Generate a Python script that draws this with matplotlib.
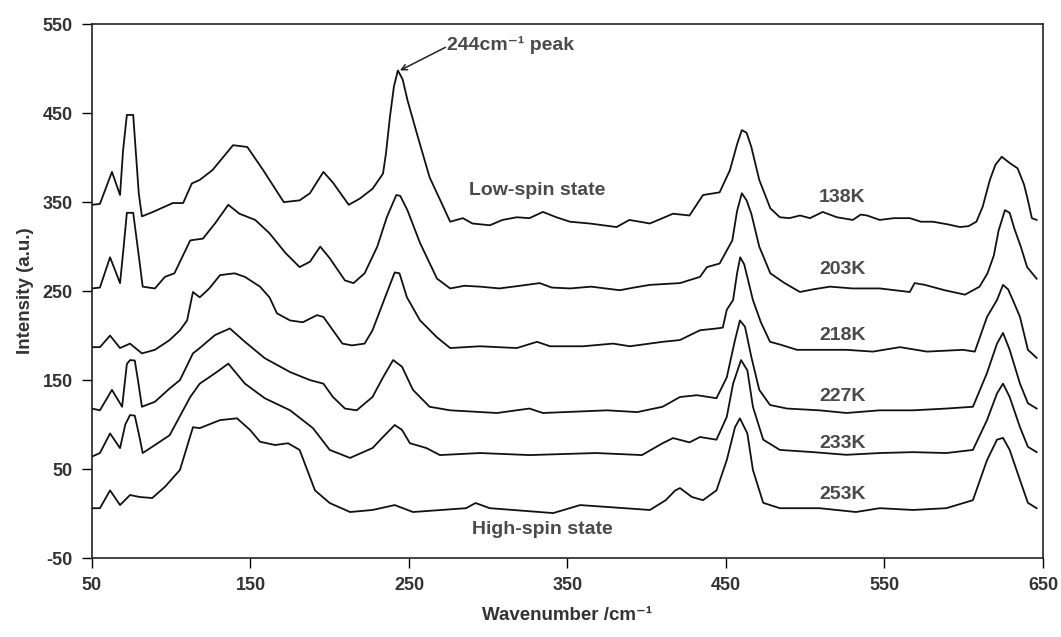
import matplotlib
matplotlib.use("Agg")
import matplotlib.pyplot as plt

plt.rcParams["font.family"] = ["Liberation Sans", "DejaVu Sans"]
plt.rcParams["font.weight"] = "bold"
plt.rcParams["axes.unicode_minus"] = False

# ---- spectra (wavenumber, intensity with offset) ----
wn_138 = [50, 55, 62.6, 67.7, 69.6, 72, 76, 79.5, 81.5, 88.5, 101, 107.5, 113, 118, 126, 139, 148,
          158, 171, 181, 187.5, 196, 202, 212, 219, 227, 233.6, 235.5, 238, 240.5, 243, 246, 249,
          255, 263, 276, 284, 290, 301, 309, 318, 326, 334.5, 343, 351.6, 364, 381, 389, 402,
          416.6, 427, 435.5, 446, 452.5, 457, 460, 463, 466, 471, 478, 484, 490, 496.7, 503, 511,
          520, 530, 535, 539, 547, 556, 566, 573, 580.6, 590, 597.6, 603, 608, 612, 616.5, 620,
          624, 629, 634, 638, 640, 643, 646]
int_138 = [347, 348, 384, 358, 408, 448, 448, 360, 334, 339, 349, 349, 371, 375, 386, 414, 412,
           386, 350, 352, 360, 384, 372, 347, 354, 365, 382, 405, 446, 480, 498, 488, 465,
           427, 378, 328, 332, 326, 324, 330, 333, 332, 339, 333, 328, 326, 322, 330, 326,
           337, 335, 358, 361, 386, 415, 431, 428, 412, 375, 343, 333, 332, 335, 332, 339,
           333, 330, 336, 335, 330, 332, 332, 328, 328, 325, 322, 323, 328, 345, 375, 392,
           401, 394, 388, 370, 356, 332, 330]

wn_203 = [50, 55, 61.4, 67.7, 70, 72, 76, 79.5, 82, 89.7, 96, 102, 112, 120, 127.6, 136, 143, 153,
          162, 172, 181, 187.5, 194, 200, 209.6, 215, 222, 230, 236, 242, 244.5, 249, 257, 267.7,
          276, 285, 295, 307, 320, 332.5, 340, 351.6, 365, 383, 392, 402, 421, 433.6, 438, 446,
          454, 457, 460, 463, 466, 471, 478, 487, 496.7, 505, 515.6, 530, 547, 566, 569, 575.5,
          588, 600.8, 610, 615, 619, 622, 626, 629, 632, 636, 640, 646]
int_203 = [253, 254, 288, 259, 300, 338, 338, 290, 255, 253, 266, 270, 307, 309, 326, 347, 337, 330,
           315, 293, 277, 283, 300, 287, 262, 259, 270, 300, 333, 358, 357, 341, 304, 264,
           253, 256, 255, 253, 256, 259, 254, 253, 255, 251, 254, 257, 259, 266, 277, 281,
           307, 340, 360, 352, 337, 300, 270, 259, 249, 252, 255, 253, 253, 249, 259, 257,
           251, 246, 255, 270, 290, 318, 341, 338, 320, 300, 277, 264]

wn_218 = [50, 55, 61.4, 67.7, 74, 81.5, 89.7, 99, 105.5, 110, 113.7, 118, 124, 130.8, 140, 146.5,
          156, 162, 166.7, 175, 183, 192, 196, 202, 208, 214, 222, 227, 236, 241, 244, 248.7,
          257, 267.7, 276, 294.8, 318, 330.8, 339, 359.8, 378.7, 389.4, 410, 421, 433.6, 444,
          448, 450.5, 454.5, 457, 459, 461.5, 464, 467, 472, 477.8, 484, 494.8, 509, 526, 542.7,
          559.8, 576.8, 599.5, 607, 614.7, 621, 624.8, 628, 631, 635.5, 640.5, 646]
int_218 = [187, 187, 200, 186, 191, 180, 184, 195, 206, 217, 249, 243, 253, 268, 270, 266,
           255, 243, 225, 217, 215, 223, 221, 206, 191, 189, 191, 206, 248, 271, 270, 243,
           217, 198, 186, 188, 186, 193, 188, 188, 191, 188, 193, 195, 206, 208,
           209, 229, 240, 270, 288, 280, 262, 240, 215, 193, 190, 184, 184, 184, 182,
           187, 182, 184, 182, 221, 240, 257, 252, 240, 221, 184, 175]

wn_227 = [50, 55, 62.6, 69, 72, 74, 77, 79, 81.5, 89.7, 99, 105.5, 113.7, 118, 127.6, 137, 146.5,
          159, 175, 187.5, 196, 202, 209.6, 217, 227, 233.6, 240, 245.6, 252.5, 263, 276, 305.5,
          326, 334.5, 375, 394, 410, 421, 431.7, 444, 450.5, 455.7, 458.8, 462, 466, 471, 477.8,
          488.5, 509, 526, 547, 568, 589, 605.8, 614.7, 621, 624.8, 629, 635.5, 640.5, 646]
int_227 = [118, 116, 139, 120, 168, 172.5, 172, 150, 120, 125.6, 140.6, 150, 180, 186, 200.6, 208, 193,
           174.6, 159, 150, 146, 131, 118, 116, 131, 153, 172.5, 165, 139, 120, 116, 113,
           118, 113, 116, 114, 120, 131, 133, 129.6, 153, 195, 217, 210, 176, 139, 122,
           118, 116, 113, 116, 116, 118, 120, 158, 191, 203, 184, 146, 124, 118]

wn_233 = [50, 55, 61.4, 67.7, 71, 74, 77, 79.5, 82, 89.7, 99, 112, 118, 127.6, 136, 146.5, 159, 175,
          189.4, 200, 212.8, 227, 233.6, 241, 245.6, 250.6, 261, 269.5, 294.8, 326, 368, 397, 410,
          416.6, 427, 433.6, 444, 450.5, 454.5, 459.5, 463.5, 467, 473.5, 484, 505, 526, 547, 568,
          589, 605.8, 614.7, 621, 624.8, 629, 635.5, 640.5, 646]
int_233 = [64, 68, 90, 73.5, 100, 110.7, 110, 90, 68, 77, 88, 131, 146, 157.6, 168.5, 146, 129.6, 116,
           96, 71.5, 62.5, 73.6, 86, 99.5, 94, 79, 73.6, 65.7, 68, 65.7, 68, 65.7, 79,
           84.8, 80, 86, 83, 108.6, 146, 172.5, 161, 120, 83, 71.5, 69, 66, 68, 69,
           68, 71.5, 105, 135, 146, 131, 97, 75, 69]

wn_253 = [50, 55, 61.4, 67.7, 74, 80, 88, 96, 105.5, 113.7, 118, 130.8, 141.5, 149.7, 156, 165.5,
          173.7, 181, 190.7, 200, 212.8, 227, 241, 252.5, 286, 292, 301, 341, 358, 402, 412, 418,
          421, 428.5, 435.5, 444, 450.5, 455.7, 458.8, 463.5, 467, 473.5, 484, 509, 532, 547, 568,
          589, 605.8, 614.7, 621, 624.8, 629, 635.5, 640.5, 646]
int_253 = [6, 6, 26, 9.5, 20.8, 18.6, 17.4, 30, 49, 97, 96, 105, 107, 94, 80.7, 77,
           79, 71.5, 26, 11.8, 1.7, 4, 9.5, 1.7, 6, 11.8, 6, 0.5, 9.5, 4, 15, 26,
           28.6, 18.6, 15, 26, 60, 97, 107, 90, 49, 12, 6, 6, 1.7, 6, 4,
           6, 15, 60, 83, 85, 71.5, 37.6, 12, 6]

spectra = [
    (wn_138, int_138), (wn_203, int_203), (wn_218, int_218),
    (wn_227, int_227), (wn_233, int_233), (wn_253, int_253),
]
temp_labels = ["138K", "203K", "218K", "227K", "233K", "253K"]
temp_label_y = [355, 274, 200, 132, 79, 21]

fig = plt.figure(figsize=(10.61, 6.37), dpi=100)
ax = fig.add_axes([0.0867, 0.124, 0.8963, 0.838])

for wn, inten in spectra:
    ax.plot(wn, inten, color="#111111", linewidth=1.3, solid_joinstyle="round")

txt_color = "#4a4a4a"
for lab, yy in zip(temp_labels, temp_label_y):
    ax.text(523.5, yy, lab, ha="center", va="center", fontsize=14, color=txt_color, fontweight="bold")

ax.text(331, 363, "Low-spin state", ha="center", va="center", fontsize=14, color=txt_color,
        fontweight="bold")
ax.text(334, -18, "High-spin state", ha="center", va="center", fontsize=14, color=txt_color,
        fontweight="bold")

# peak callout: text and arrow drawn apart so the text keeps its place
ax.text(274, 527, "244cm\u207b\u00b9 peak", ha="left", va="center", fontsize=14,
        color=txt_color, fontweight="bold")
ax.annotate("", xy=(244.3, 498), xytext=(273, 524),
            arrowprops=dict(arrowstyle="->", color="#222222", lw=1.1, shrinkA=0, shrinkB=0))

ax.set_xlim(50, 650)
ax.set_ylim(-50, 550)
ax.set_xticks(range(50, 651, 100))
ax.set_yticks(range(-50, 551, 100))
ax.tick_params(direction="out", length=7, width=1, labelsize=13, labelcolor="#333333",
               top=False, right=False, pad=7)
for lbl in ax.get_xticklabels() + ax.get_yticklabels():
    lbl.set_fontweight("bold")
for sp in ax.spines.values():
    sp.set_linewidth(1.2)
    sp.set_color("#222222")

ax.set_xlabel("Wavenumber /cm\u207b\u00b9", fontsize=13.5, fontweight="bold", color="#333333",
              labelpad=9)
ax.set_ylabel("Intensity (a.u.)", fontsize=13.5, fontweight="bold", color="#333333", labelpad=6)

fig.savefig("out.png", dpi=100)
